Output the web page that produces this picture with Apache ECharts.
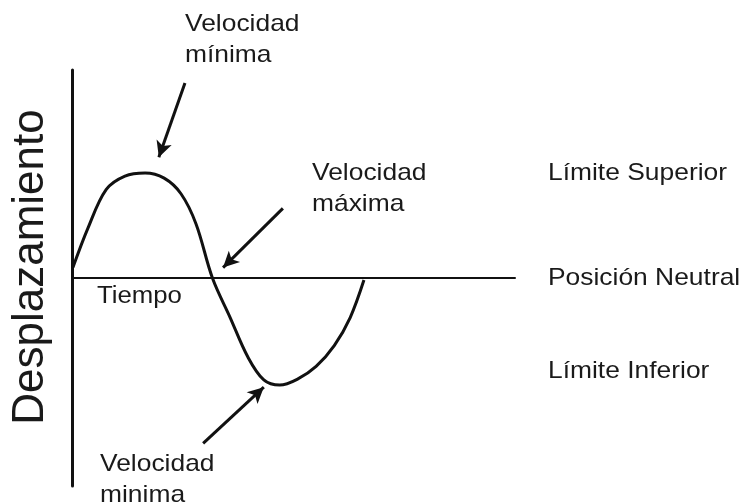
<!DOCTYPE html>
<html>
<head>
<meta charset="utf-8">
<title>Desplazamiento</title>
<script src="https://cdn.jsdelivr.net/npm/echarts@6/dist/echarts.min.js"></script>
<style>
  html, body { margin: 0; padding: 0; background: #fff; }
  #chart { width: 744px; height: 504px; }
</style>
</head>
<body>
<div id="chart"></div>
<script>
  // curva de desplazamiento (tiempo 0-100, desplazamiento -2..2)
  var tiempo = [0.2, 3.6, 7.7, 11.95, 16.5, 20.8, 24.6, 28.0, 31.7,
                35.7, 39.7, 43.3, 46.9, 51.0, 55.1, 59.2, 62.8, 65.9];
  var desplazamiento = [0.1, 0.48, 0.85, 0.98, 1.01, 0.96, 0.81, 0.52, 0.0,
                        -0.38, -0.76, -0.98, -1.03, -0.97, -0.85, -0.65, -0.38, -0.02];

  // flechas: inicio y punta
  var flechaInicio = [[25.5, 1.875], [47.6, 0.67], [29.6, -1.59]];
  var flechaPunta = [[19.6, 1.16], [34.1, 0.10], [43.3, -1.05]];

  var textos = ['Velocidad\nmínima', 'Velocidad\nmáxima', 'Velocidad\nminima',
                'Límite Superior', 'Posición Neutral', 'Límite Inferior'];
  var ejeX = 'Tiempo';
  var ejeY = 'Desplazamiento';

  var fuente = 'Liberation Sans, Arial, sans-serif';

  // y = centro de la primera linea
  function texto(t, x, y, size, sx) {
    return {
      type: 'text', x: x, y: y - 15.5, scaleX: sx || 1.1,
      style: {
        text: t, fontSize: size, fontFamily: fuente, fill: '#1a1a1a',
        textAlign: 'left', textVerticalAlign: 'top', lineHeight: 31
      }
    };
  }

  var chart = echarts.init(document.getElementById('chart'));

  var puntos = tiempo.map(function (t, i) { return [t, desplazamiento[i]]; });
  var flechas = flechaInicio.map(function (p, i) {
    return [{ coord: p, symbol: 'none' }, { coord: flechaPunta[i], symbol: 'arrow' }];
  });

  chart.setOption({
    animation: false,
    grid: { left: 72, right: 229, top: 70, bottom: 18 },
    xAxis: {
      type: 'value', min: 0, max: 100,
      axisLine: { show: true, lineStyle: { color: '#111', width: 2 } },
      axisTick: { show: false }, axisLabel: { show: false }, splitLine: { show: false }
    },
    yAxis: {
      type: 'value', min: -2, max: 2,
      axisLine: { show: true, lineStyle: { color: '#111', width: 3 } },
      axisTick: { show: false }, axisLabel: { show: false }, splitLine: { show: false }
    },
    series: [{
      type: 'line',
      data: puntos,
      smooth: 0.35,
      showSymbol: false,
      lineStyle: { color: '#111', width: 3 },
      markLine: {
        silent: true,
        symbolSize: [12, 16],
        label: { show: false },
        lineStyle: { color: '#111', width: 3, type: 'solid' },
        data: flechas
      }
    }],
    graphic: [
      texto(textos[0], 185, 24, 24),
      texto(textos[1], 312, 173, 24),
      texto(textos[2], 100, 464, 24),
      texto(textos[3], 548, 173, 24),
      texto(textos[4], 548, 278, 24),
      texto(textos[5], 548, 371, 24),
      texto(ejeX, 97, 297, 23, 1.12),
      {
        type: 'text', x: 31, y: 267, rotation: Math.PI / 2,
        style: {
          text: ejeY, fontSize: 44, fontFamily: fuente, fill: '#1a1a1a',
          textAlign: 'center', textVerticalAlign: 'middle'
        }
      }
    ]
  });
</script>
</body>
</html>
